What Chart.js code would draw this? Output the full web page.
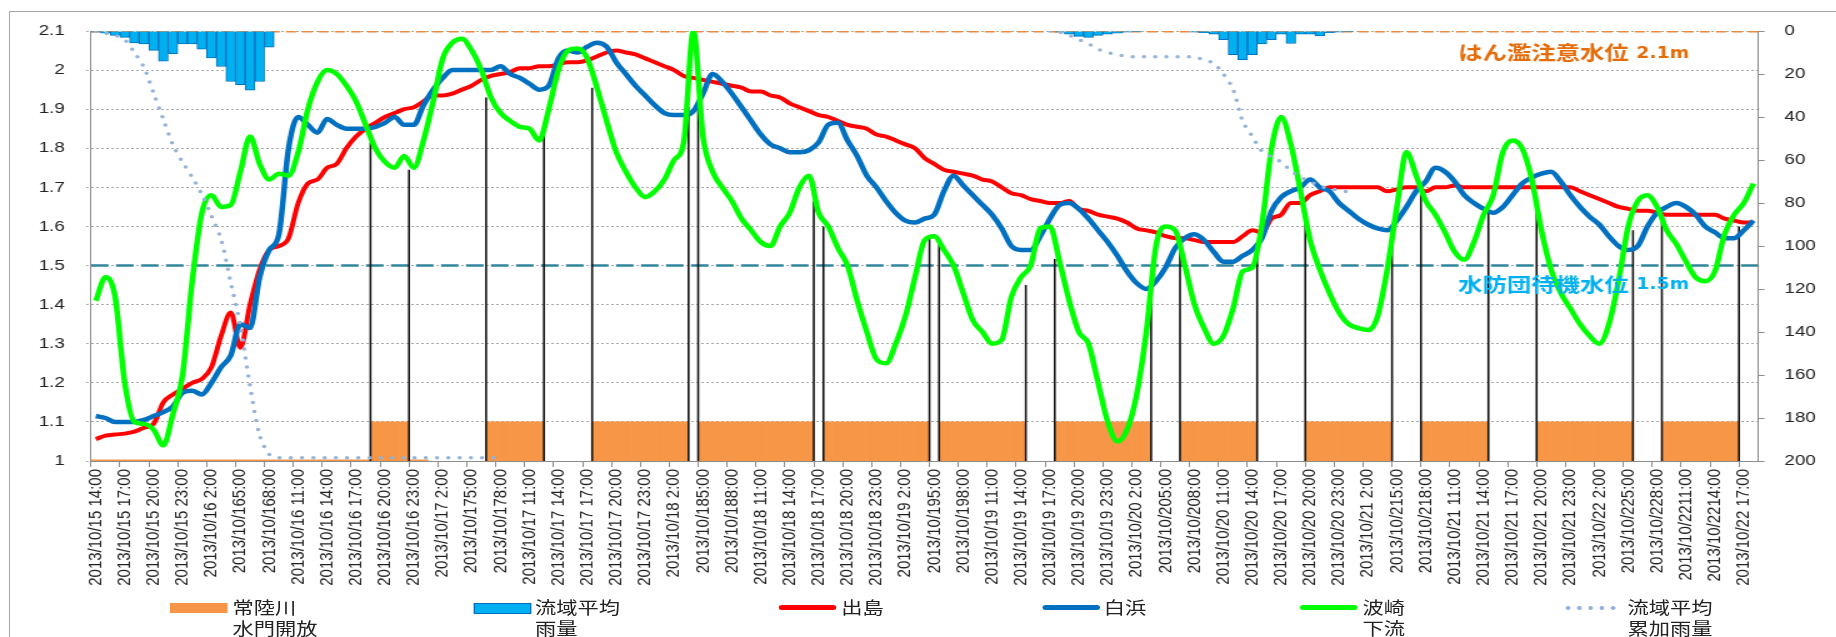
<!DOCTYPE html>
<html>
<head>
<meta charset="utf-8">
<script src="https://cdn.jsdelivr.net/npm/chart.js@4.4.0/dist/chart.umd.min.js"></script>
<style>
  html, body { margin: 0; padding: 0; background: #fff; overflow: hidden; }
  body { width: 1836px; height: 637px; position: relative; }
  #frame { position: absolute; left: 9px; top: 11px; width: 2000px; height: 1000px; border: 1px solid #A6A6A6; }
  #wrap { position: absolute; left: 0; top: 0; width: 1469px; height: 637px; transform: scaleX(1.25); transform-origin: 0 0; }
  #legend { position: absolute; left: 0; top: 596px; width: 1469px; height: 41px;
            font: 17px "Noto Sans CJK JP", sans-serif; color: #222; line-height: 21px; }
  #legend .sw { position: absolute; }
  #legend .tx { position: absolute; top: 0; white-space: nowrap; }
</style>
</head>
<body>
<div id="frame"></div>
<div id="wrap">
  <canvas id="grafico"></canvas>
  <div id="legend">
    <div class="sw" style="left:136px; top:7px; width:46px; height:10px; background:#F79646;"></div>
    <div class="tx" style="left:186px;">常陸川<br>水門開放</div>
    <div class="sw" style="left:379px; top:7px; width:44px; height:9px; background:#00B0F0; border:1px solid #0070C0;"></div>
    <div class="tx" style="left:428px;">流域平均<br>雨量</div>
    <div class="sw" style="left:623px; top:9px; width:46px; height:5px; background:#FF0000; border-radius:3px;"></div>
    <div class="tx" style="left:673px;">出島</div>
    <div class="sw" style="left:834px; top:9px; width:46px; height:5px; background:#0070C0; border-radius:3px;"></div>
    <div class="tx" style="left:883px;">白浜</div>
    <div class="sw" style="left:1040px; top:9px; width:46px; height:5px; background:#00FF00; border-radius:3px;"></div>
    <div class="tx" style="left:1090px;">波崎<br>下流</div>
    <div class="sw" style="left:1250px; top:9px; width:44px; height:6px; background:radial-gradient(circle, #95B3D7 1.6px, rgba(255,255,255,0) 2.2px) 0 0/9px 6px repeat-x;"></div>
    <div class="tx" style="left:1302px;">流域平均<br>累加雨量</div>
  </div>
</div>
<script>
// 1時間ごとのカテゴリ (2013/10/15 14:00 〜 2013/10/22 18:00)
var hourLabels = [];
for (var h = 0; h < 173; h++) {
    var t = new Date(2013, 9, 15, 14 + h);
    hourLabels.push(t.getFullYear() + '/' + (t.getMonth() + 1) + '/' + t.getDate() + ' ' + t.getHours() + ':00');
}

// 3時間ごとの目盛ラベル（表示どおり）
var tickLabels = [
    '2013/10/15 14:00', '2013/10/15 17:00', '2013/10/15 20:00', '2013/10/15 23:00',
    '2013/10/16 2:00', '2013/10/165:00', '2013/10/168:00', '2013/10/16 11:00', '2013/10/16 14:00', '2013/10/16 17:00', '2013/10/16 20:00', '2013/10/16 23:00',
    '2013/10/17 2:00', '2013/10/175:00', '2013/10/178:00', '2013/10/17 11:00', '2013/10/17 14:00', '2013/10/17 17:00', '2013/10/17 20:00', '2013/10/17 23:00',
    '2013/10/18 2:00', '2013/10/185:00', '2013/10/188:00', '2013/10/18 11:00', '2013/10/18 14:00', '2013/10/18 17:00', '2013/10/18 20:00', '2013/10/18 23:00',
    '2013/10/19 2:00', '2013/10/195:00', '2013/10/198:00', '2013/10/19 11:00', '2013/10/19 14:00', '2013/10/19 17:00', '2013/10/19 20:00', '2013/10/19 23:00',
    '2013/10/20 2:00', '2013/10/205:00', '2013/10/208:00', '2013/10/20 11:00', '2013/10/20 14:00', '2013/10/20 17:00', '2013/10/20 20:00', '2013/10/20 23:00',
    '2013/10/21 2:00', '2013/10/215:00', '2013/10/218:00', '2013/10/21 11:00', '2013/10/21 14:00', '2013/10/21 17:00', '2013/10/21 20:00', '2013/10/21 23:00',
    '2013/10/22 2:00', '2013/10/225:00', '2013/10/228:00', '2013/10/2211:00', '2013/10/2214:00', '2013/10/22 17:00'
];

// 水位 出島 (m)
var dejima = [
    1.056, 1.065, 1.068, 1.07, 1.075, 1.085, 1.095, 1.15, 1.17, 1.185,
    1.20, 1.21, 1.24, 1.32, 1.38, 1.29, 1.40, 1.49, 1.54, 1.55, 1.57, 1.66, 1.71, 1.72, 1.75, 1.76, 1.80, 1.83, 1.85, 1.865, 1.88, 1.89, 1.90, 1.905,
    1.92, 1.935, 1.935, 1.94, 1.95, 1.96, 1.975, 1.985, 1.99, 1.995, 2.005, 2.005, 2.01, 2.01, 2.015, 2.02, 2.02, 2.025, 2.035, 2.045, 2.05, 2.045, 2.04, 2.03,
    2.02, 2.01, 2.0, 1.985, 1.98, 1.975, 1.97, 1.965, 1.96, 1.955, 1.945, 1.945, 1.935, 1.93, 1.915, 1.905, 1.895, 1.885, 1.88, 1.87, 1.86, 1.855, 1.85, 1.835,
    1.83, 1.82, 1.81, 1.80, 1.775, 1.76, 1.745, 1.74, 1.735, 1.73, 1.72, 1.715, 1.70, 1.685, 1.68, 1.67, 1.665, 1.66, 1.66, 1.665, 1.645, 1.64, 1.63, 1.625,
    1.62, 1.61, 1.595, 1.59, 1.585, 1.575, 1.57, 1.57, 1.565, 1.56, 1.56, 1.56, 1.56, 1.575, 1.59, 1.585, 1.62, 1.63, 1.66, 1.66, 1.68, 1.69, 1.70, 1.70,
    1.70, 1.70, 1.70, 1.70, 1.69, 1.695, 1.70, 1.70, 1.69, 1.70, 1.70, 1.705, 1.70, 1.70, 1.70, 1.70, 1.70, 1.70, 1.70, 1.70, 1.70, 1.70, 1.70, 1.70,
    1.69, 1.68, 1.67, 1.66, 1.65, 1.645, 1.64, 1.64, 1.635, 1.63, 1.63, 1.63, 1.63, 1.63, 1.63, 1.62, 1.615, 1.61, 1.61
];

// 水位 白浜 (m)
var shirahama = [
    1.115, 1.11, 1.10, 1.10, 1.10, 1.105, 1.115, 1.125, 1.14, 1.175,
    1.18, 1.17, 1.20, 1.24, 1.27, 1.35, 1.34, 1.47, 1.54, 1.58, 1.80, 1.88, 1.86, 1.84, 1.875, 1.86, 1.85, 1.85, 1.85, 1.855, 1.865, 1.88, 1.86, 1.86,
    1.91, 1.95, 1.98, 2.00, 2.00, 2.00, 2.00, 2.00, 2.01, 1.99, 1.98, 1.965, 1.95, 1.96, 2.03, 2.05, 2.045, 2.06, 2.07, 2.06, 2.02, 1.99, 1.96, 1.935,
    1.91, 1.89, 1.885, 1.885, 1.895, 1.94, 1.99, 1.97, 1.94, 1.905, 1.87, 1.835, 1.81, 1.80, 1.79, 1.79, 1.795, 1.815, 1.86, 1.865, 1.82, 1.78, 1.73, 1.70,
    1.665, 1.635, 1.615, 1.61, 1.62, 1.63, 1.69, 1.73, 1.705, 1.68, 1.655, 1.63, 1.595, 1.55, 1.54, 1.54, 1.575, 1.62, 1.655, 1.66, 1.645, 1.62, 1.59, 1.56,
    1.525, 1.485, 1.455, 1.44, 1.46, 1.495, 1.545, 1.57, 1.58, 1.565, 1.535, 1.51, 1.51, 1.525, 1.54, 1.57, 1.64, 1.675, 1.69, 1.70, 1.72, 1.70, 1.69, 1.66,
    1.64, 1.62, 1.605, 1.595, 1.59, 1.615, 1.65, 1.69, 1.715, 1.75, 1.74, 1.715, 1.68, 1.66, 1.645, 1.635, 1.65, 1.68, 1.71, 1.725, 1.735, 1.74, 1.715, 1.68,
    1.65, 1.625, 1.605, 1.575, 1.55, 1.54, 1.55, 1.60, 1.635, 1.65, 1.66, 1.65, 1.63, 1.60, 1.585, 1.57, 1.57, 1.59, 1.615
];

// 水位 波崎下流 (m)
var hasaki = [
    1.41, 1.47, 1.42, 1.20, 1.10, 1.095, 1.08, 1.04, 1.12, 1.22,
    1.46, 1.635, 1.68, 1.65, 1.655, 1.74, 1.83, 1.76, 1.72, 1.735, 1.73, 1.79, 1.90, 1.97, 2.00, 1.99, 1.96, 1.92, 1.86, 1.80, 1.765, 1.75, 1.78, 1.75,
    1.82, 1.92, 2.03, 2.07, 2.08, 2.05, 2.00, 1.93, 1.89, 1.87, 1.855, 1.85, 1.82, 1.90, 2.00, 2.05, 2.055, 2.03, 1.955, 1.87, 1.79, 1.74, 1.70, 1.675,
    1.69, 1.72, 1.77, 1.815, 2.10, 1.83, 1.74, 1.70, 1.665, 1.62, 1.59, 1.56, 1.55, 1.60, 1.635, 1.70, 1.73, 1.635, 1.60, 1.545, 1.50, 1.41, 1.33, 1.26,
    1.25, 1.30, 1.37, 1.47, 1.565, 1.575, 1.54, 1.50, 1.43, 1.36, 1.33, 1.30, 1.31, 1.42, 1.47, 1.50, 1.595, 1.60, 1.51, 1.41, 1.33, 1.30, 1.20, 1.10,
    1.05, 1.08, 1.17, 1.33, 1.55, 1.60, 1.59, 1.50, 1.40, 1.34, 1.30, 1.32, 1.39, 1.485, 1.495, 1.605, 1.80, 1.88, 1.81, 1.69, 1.565, 1.49, 1.43, 1.38,
    1.35, 1.34, 1.335, 1.37, 1.49, 1.65, 1.79, 1.73, 1.665, 1.63, 1.585, 1.535, 1.515, 1.56, 1.63, 1.68, 1.79, 1.82, 1.80, 1.72, 1.59, 1.49, 1.43, 1.39,
    1.35, 1.32, 1.30, 1.35, 1.46, 1.60, 1.665, 1.68, 1.65, 1.59, 1.555, 1.51, 1.47, 1.46, 1.485, 1.58, 1.63, 1.66, 1.71
];

// 流域平均雨量 (mm/h, 右軸)
var rain = [
    0.5, 1, 2, 3, 5.5, 6, 9, 14, 10.5, 6,
    6, 8.5, 12.5, 16.5, 23.5, 25, 27.5, 23.5, 7.5, null, null, null, null, null, null, null, null, null, null, null, null, null, null, null,
    null, null, null, null, null, null, null, null, null, null, null, null, null, null, null, null, null, null, null, null, null, null, null, null,
    null, null, null, null, null, null, null, null, null, null, null, null, null, null, null, null, null, null, null, null, null, null, null, null,
    null, null, null, null, null, null, null, null, null, null, null, null, null, null, null, null, null, null, 0.5, 1.5, 2.5, 3, 2, 1.5,
    1, 0.5, 0.3, null, null, null, null, null, 0.5, 0.8, 1.5, 4, 11, 13.3, 11, 6, 4, 1.5, 5.8, 1.5, 1.5, 2.3, 0.8, 0.5,
    0.3, null, null, null, null, null, null, null, null, null, null, null, null, null, null, null, null, null, null, null, null, null, null, null,
    null, null, null, null, null, null, null, null, null, null, null, null, null, null, null, null, null, null, null
];

// 流域平均累加雨量 (mm, 右軸)
var rainTotal = [
    0, 1, 2, 4, 10, 17, 29, 41, 53, 61,
    68, 76, 86, 97, 117, 137, 165, 188, 197, 198.5, 198.5, 198.5, 198.5, 198.5, 198.5, 198.5, 198.5, 198.5, 198.5, 198.5, 198.5, 198.5, 198.5, 198.5,
    198.5, 198.5, 198.5, 198.5, 198.5, 198.5, 198.5, 198.5, 198.5, null, null, null, null, null, null, null, null, null, null, null, null, null, null, null,
    null, null, null, null, null, null, null, null, null, null, null, null, null, null, null, null, null, null, null, null, null, null, null, null,
    null, null, null, null, null, null, null, null, null, null, null, null, null, null, null, null, null, 0, 0.5, 2, 4, 6, 8.5, 10,
    11, 11.8, 12, 12, 12, 12, 12, 12, 12, 13.5, 15, 20, 27, 42, 49, 56, 58.6, 61, 65, 68, 70, 72, 73.4, 74,
    75, null, null, null, null, null, null, null, null, null, null, null, null, null, null, null, null, null, null, null, null, null, null, null,
    null, null, null, null, null, null, null, null, null, null, null, null, null, null, null, null, null, null, null
];

// 常陸川水門 開放/閉鎖の時刻（カテゴリ境界の番号）と、その縦線の上端 (m)
var gateEdges = [29, 33, 41, 47, 52, 62, 63, 75, 76, 87, 88, 97, 100, 110, 113, 121, 126, 135, 138, 145, 150, 160, 163, 171];
var gateEdgeTops = [1.815, 1.745, 1.93, 1.85, 1.955, 1.905, 1.92, 1.665, 1.60, 1.572, 1.555, 1.45, 1.517, 1.41, 1.56, 1.54, 1.648, 1.585, 1.70, 1.636, 1.636, 1.59, 1.61, 1.60];
// 水門閉鎖（1.0）として記録されている区間
var gateClosedRange = [0, 35];

// 基準水位 (m)
var floodLevel = 2.1;
var standbyLevel = 1.5;
var levelNotes = [
    { level: floodLevel, text: 'はん濫注意水位', value: '2.1m', color: '#E46C0A' },
    { level: standbyLevel, text: '水防団待機水位', value: '1.5m', color: '#00B0F0' }
];
var noteOffsets = [22, 19];

// 水門開放の棒（1.0〜1.1 の帯）
var gateBars = hourLabels.map(function(_, i) {
    for (var k = 0; k < gateEdges.length; k += 2) {
        if (i >= gateEdges[k] && i < gateEdges[k + 1]) return [1.0, 1.1];
    }
    return null;
});

// 開閉時刻の縦線
var gateLines = [];
gateEdges.forEach(function(e, k) {
    gateLines.push({ x: e, y: 1.0 }, { x: e, y: gateEdgeTops[k] }, { x: e, y: null });
});

var font = '"Liberation Sans", Arial, sans-serif';

var levelTextPlugin = {
    id: 'levelText',
    afterDatasetsDraw: function(chart) {
        var ctx = chart.ctx, area = chart.chartArea, y = chart.scales.y;
        levelNotes.forEach(function(n, k) {
            var py = y.getPixelForValue(n.level) + noteOffsets[k];
            var px = area.right - 240;
            ctx.save();
            ctx.fillStyle = n.color;
            ctx.textBaseline = 'middle';
            ctx.font = 'bold 19.5px "Noto Sans CJK JP"';
            ctx.fillText(n.text, px, py);
            px += ctx.measureText(n.text).width + 6;
            ctx.font = 'bold 15px "DejaVu Sans"';
            ctx.fillText(n.value, px, py + 1);
            ctx.restore();
        });
    }
};

var ctx = document.getElementById('grafico').getContext('2d');
var chart = new Chart(ctx, {
    type: 'bar',
    data: {
        labels: hourLabels,
        datasets: [{
            type: 'line',
            label: '流域平均累加雨量',
            data: rainTotal,
            xAxisID: 'x', yAxisID: 'yR',
            borderColor: '#95B3D7',
            borderWidth: 3.5,
            borderDash: [0, 9],
            borderCapStyle: 'round',
            pointRadius: 0,
            tension: 0.3,
            order: 1
        }, {
            type: 'line',
            label: '波崎下流',
            data: hasaki,
            xAxisID: 'x', yAxisID: 'y',
            borderColor: '#00FF00',
            borderWidth: 4.5,
            pointRadius: 0,
            cubicInterpolationMode: 'monotone',
            order: 2
        }, {
            type: 'line',
            label: '白浜',
            data: shirahama,
            xAxisID: 'x', yAxisID: 'y',
            borderColor: '#0070C0',
            borderWidth: 4.5,
            pointRadius: 0,
            cubicInterpolationMode: 'monotone',
            order: 3
        }, {
            type: 'line',
            label: '出島',
            data: dejima,
            xAxisID: 'x', yAxisID: 'y',
            borderColor: '#FF0000',
            borderWidth: 4,
            pointRadius: 0,
            cubicInterpolationMode: 'monotone',
            order: 4
        }, {
            type: 'line',
            label: '開閉',
            data: gateLines,
            xAxisID: 'xl', yAxisID: 'y',
            borderColor: '#111',
            borderWidth: 1.6,
            pointRadius: 0,
            tension: 0,
            spanGaps: false,
            order: 5
        }, {
            type: 'bar',
            label: '流域平均雨量',
            data: rain,
            xAxisID: 'x', yAxisID: 'yR',
            backgroundColor: '#00B0F0',
            borderColor: '#0070C0',
            borderWidth: 1,
            grouped: false,
            categoryPercentage: 1,
            barPercentage: 1,
            order: 6
        }, {
            type: 'line',
            label: 'はん濫注意水位',
            data: [{ x: 0, y: floodLevel }, { x: 173, y: floodLevel }],
            xAxisID: 'xl', yAxisID: 'y',
            borderColor: '#F0883E',
            borderWidth: 3,
            borderDash: [8, 5],
            pointRadius: 0,
            order: 6.5
        }, {
            type: 'line',
            label: '水防団待機水位',
            data: [{ x: 0, y: standbyLevel }, { x: 173, y: standbyLevel }],
            xAxisID: 'xl', yAxisID: 'y',
            borderColor: '#31859C',
            borderWidth: 2.5,
            borderDash: [14, 6],
            pointRadius: 0,
            order: 6.5
        }, {
            type: 'line',
            label: '水門閉鎖',
            data: [{ x: gateClosedRange[0], y: 1.0 }, { x: gateClosedRange[1], y: 1.0 }],
            xAxisID: 'xl', yAxisID: 'y',
            borderColor: '#F79646',
            borderWidth: 3,
            pointRadius: 0,
            order: 6.8
        }, {
            type: 'bar',
            label: '常陸川水門開放',
            data: gateBars,
            xAxisID: 'x', yAxisID: 'y',
            backgroundColor: '#F79646',
            borderWidth: 0,
            grouped: false,
            categoryPercentage: 1,
            barPercentage: 1,
            order: 7
        }]
    },
    plugins: [levelTextPlugin],
    options: {
        responsive: true,
        maintainAspectRatio: false,
        animation: false,
        layout: { padding: { left: 0, right: 0, top: 31, bottom: 42 } },
        plugins: { legend: { display: false }, tooltip: { enabled: false } },
        scales: {
            x: {
                type: 'category',
                offset: true,
                grid: {
                    offset: true,
                    drawOnChartArea: false,
                    tickLength: 6,
                    color: function(c) { return c.index % 3 === 0 ? '#8C8C8C' : 'rgba(0,0,0,0)'; }
                },
                border: { color: '#8C8C8C' },
                ticks: {
                    autoSkip: false,
                    maxRotation: 90,
                    minRotation: 90,
                    padding: 2,
                    color: '#222',
                    font: { family: font, size: 15 },
                    callback: function(v, i) { return i % 3 === 0 ? tickLabels[i / 3] : ''; }
                },
                afterFit: function(s) { s.height = 134; }
            },
            xl: {
                type: 'linear',
                position: 'bottom',
                offset: false,
                min: 0,
                max: 173,
                ticks: { display: false },
                grid: { display: false, drawTicks: false, offset: false },
                border: { display: false },
                afterFit: function(s) { s.height = 0; }
            },
            y: {
                position: 'left',
                min: 1,
                max: 2.1,
                ticks: {
                    stepSize: 0.1,
                    padding: 17,
                    color: '#222',
                    font: { family: font, size: 15 },
                    callback: function(v) { return String(Math.round(v * 10) / 10); }
                },
                grid: { color: '#A6A6A6', tickLength: 4, tickBorderDash: [2, 2] },
                border: { color: '#8C8C8C', dash: [2, 2] },
                afterFit: function(s) { s.width = 72.8; }
            },
            yR: {
                position: 'right',
                reverse: true,
                min: 0,
                max: 200,
                ticks: { stepSize: 20, padding: 16, color: '#222', font: { family: font, size: 15 } },
                grid: { drawOnChartArea: false, tickLength: 5, color: '#8C8C8C' },
                border: { color: '#8C8C8C' },
                afterFit: function(s) { s.width = 62.4; }
            }
        }
    }
});
</script>
</body>
</html>
